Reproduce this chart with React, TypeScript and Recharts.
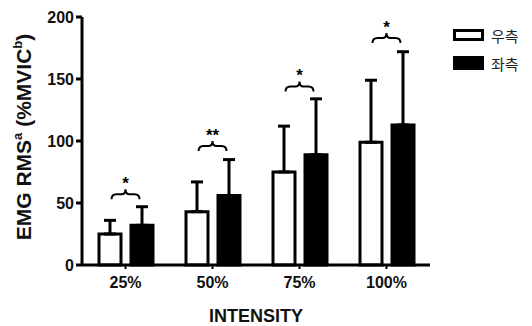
import React from 'react';
import { ComposedChart, Bar, ErrorBar, Scatter, XAxis, YAxis, Legend, Label } from 'recharts';

const intensities = ['25%', '50%', '75%', '100%'];
const rightMean = [25, 43, 75, 99];
const rightSd = [11, 24, 37, 50];
const leftMean = [32, 56, 89, 113];
const leftSd = [15, 29, 45, 59];
const braceLevel = [57, 96, 144, 183];
const marks = ['*', '**', '*', '*'];

const data = intensities.map((name, i) => ({
  name,
  right: rightMean[i],
  rightErr: [0, rightSd[i]],
  left: leftMean[i],
  leftErr: [0, leftSd[i]],
  brace: braceLevel[i],
  mark: marks[i],
}));

const FONT = '"Liberation Sans", Arial, sans-serif';

// curly brace lying on its side, tip pointing up, with the star(s) above
const BraceMark = (props: any) => {
  const { cx, cy, payload } = props;
  if (cx == null || cy == null) return null;
  const w = 14;
  const d = `M${cx - w},${cy + 5} Q${cx - w},${cy} ${cx - w + 5},${cy} L${cx - 4},${cy} Q${cx},${cy} ${cx},${cy - 5} Q${cx},${cy} ${cx + 4},${cy} L${cx + w - 5},${cy} Q${cx + w},${cy} ${cx + w},${cy + 5}`;
  return (
    <g>
      <path d={d} fill="none" stroke="#000" strokeWidth={2} />
      <text x={cx} y={cy - 5} textAnchor="middle" fontFamily={FONT} fontWeight="bold" fontSize={17} fill="#000">
        {payload.mark}
      </text>
    </g>
  );
};

const YTitle = (props: any) => {
  const { viewBox } = props;
  const cy = viewBox.y + viewBox.height / 2 - 4;
  const x = 31;
  return (
    <text
      x={x}
      y={cy}
      transform={`rotate(-90, ${x}, ${cy})`}
      textAnchor="middle"
      fontFamily={FONT}
      fontWeight="bold"
      fontSize={21}
      fill="#111"
    >
      EMG RMS<tspan fontSize={13} dy={-9}>a</tspan>
      <tspan dy={9}> (%MVIC</tspan>
      <tspan fontSize={13} dy={-9}>b</tspan>
      <tspan dy={9}>)</tspan>
    </text>
  );
};

const LegendBox = () => (
  <div style={{ fontFamily: '"Noto Sans CJK KR", sans-serif', fontSize: 15, color: '#222' }}>
    <div style={{ display: 'flex', alignItems: 'center', height: 28 }}>
      <div style={{ width: 25, height: 6, border: '3px solid #000', background: '#fff', marginRight: 7 }} />
      <span>우측</span>
    </div>
    <div style={{ display: 'flex', alignItems: 'center', height: 28 }}>
      <div style={{ width: 31, height: 14, background: '#000', marginRight: 7 }} />
      <span>좌측</span>
    </div>
  </div>
);

export default function App() {
  return (
    <div style={{ position: 'absolute', left: 0, top: 0, background: '#fff' }}>
      <ComposedChart
        width={532}
        height={326}
        data={data}
        margin={{ top: 17, right: 102, bottom: 0, left: 0 }}
        barGap={10}
        barCategoryGap={15}
      >
        <XAxis
          dataKey="name"
          height={61}
          axisLine={{ stroke: '#000', strokeWidth: 3 }}
          tickLine={{ stroke: '#000', strokeWidth: 2 }}
          tickSize={4}
          tick={{ fill: '#111', fontFamily: FONT, fontWeight: 'bold', fontSize: 16, dy: 6 }}
        >
          <Label
            value="INTENSITY"
            position="insideBottom"
            offset={4}
            style={{ fill: '#111', fontFamily: FONT, fontWeight: 'bold', fontSize: 18 }}
          />
        </XAxis>
        <YAxis
          width={82}
          domain={[0, 200]}
          ticks={[0, 50, 100, 150, 200]}
          interval={0}
          axisLine={{ stroke: '#000', strokeWidth: 3 }}
          tickLine={{ stroke: '#000', strokeWidth: 3 }}
          tickSize={6}
          tick={{ fill: '#111', fontFamily: FONT, fontWeight: 'bold', fontSize: 16 }}
          label={<YTitle />}
        />
        <Legend
          layout="horizontal"
          align="center"
          verticalAlign="middle"
          content={() => <LegendBox />}
          wrapperStyle={{ position: 'absolute', left: 453, top: 21, width: 80 }}
        />
        <Bar dataKey="right" barSize={22} fill="#fff" stroke="#000" strokeWidth={3} isAnimationActive={false}>
          <ErrorBar dataKey="rightErr" width={6} stroke="#000" strokeWidth={3} direction="y" />
        </Bar>
        <Bar dataKey="left" barSize={22} fill="#000" stroke="#000" strokeWidth={3} isAnimationActive={false}>
          <ErrorBar dataKey="leftErr" width={6} stroke="#000" strokeWidth={3} direction="y" />
        </Bar>
        <Scatter dataKey="brace" shape={<BraceMark />} isAnimationActive={false} legendType="none" />
      </ComposedChart>
    </div>
  );
}
